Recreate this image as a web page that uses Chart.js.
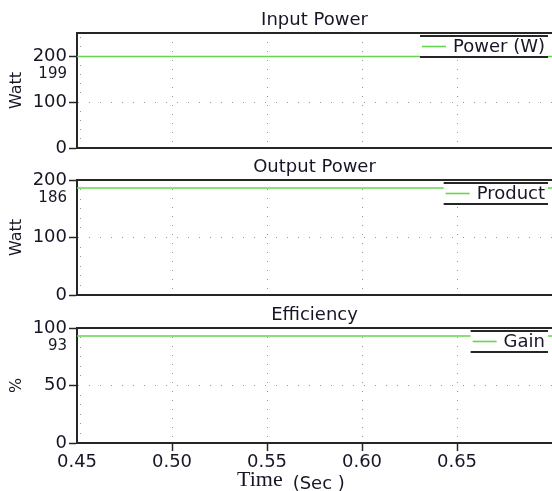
<!DOCTYPE html>
<html>
<head>
<meta charset="utf-8">
<script src="https://cdn.jsdelivr.net/npm/chart.js@4"></script>
<style>
  body { margin: 0; background: #fff; width: 552px; height: 491px; overflow: hidden; position: relative; }
  canvas { position: absolute; left: 0; }
</style>
</head>
<body>
<canvas id="c1" width="552" height="162" style="top:0px"></canvas>
<canvas id="c2" width="552" height="162" style="top:147px"></canvas>
<canvas id="c3" width="552" height="196" style="top:295px"></canvas>
<script>
// values
var time = [0.45, 0.70];
var inputPower = [199, 199];
var outputPower = [186, 186];
var efficiency = [93, 93];
var seriesValues = [inputPower, outputPower, efficiency];

var panelTitles = ["Input Power", "Output Power", "Efficiency"];
var seriesLabels = ["Power (W)", "Product", "Gain"];
var yTitles = ["Watt", "Watt", "%"];
var yMax = [250, 200, 100];
var yMajor = [[0, 100, 200], [0, 100, 200], [0, 50, 100]];
var yMinorStep = [20, 200 / 12, 100 / 12];
var xRange = [0.45, 0.70];
var xTicks = [0.45, 0.50, 0.55, 0.60, 0.65];
var xTitleParts = ["Time", "(Sec )"];

const ink = "#161626";
const axisColor = "#262626";
const dotColor = "#999999";
const lineGreen = "#66d64f";
const sans = '"DejaVu Sans", Verdana, sans-serif';

Chart.defaults.font.family = sans;
Chart.defaults.color = ink;

// legend box, the value label under the top tick, and the time title
const decor = {
  id: "decor",
  afterDatasetsDraw(chart, args, opts) {
    const ctx = chart.ctx;
    const area = chart.chartArea;
    const ds = chart.data.datasets[0];
    ctx.save();
    ctx.font = "18px " + sans;
    const tw = ctx.measureText(ds.label).width;
    const right = area.right - 4;
    const left = right - tw - 36;
    const top = area.top + 3;
    const bottom = area.top + 24;
    ctx.fillStyle = "#fff";
    ctx.fillRect(left, top, right - left, bottom - top);
    ctx.strokeStyle = axisColor;
    ctx.lineWidth = 2;
    ctx.beginPath();
    ctx.moveTo(left, top); ctx.lineTo(right, top);
    ctx.moveTo(left, bottom); ctx.lineTo(right, bottom);
    ctx.stroke();
    const mid = (top + bottom) / 2;
    ctx.strokeStyle = ds.borderColor;
    ctx.lineWidth = ds.borderWidth;
    ctx.beginPath();
    ctx.moveTo(left + 2, mid); ctx.lineTo(left + 26, mid);
    ctx.stroke();
    ctx.fillStyle = ink;
    ctx.textBaseline = "middle";
    ctx.textAlign = "left";
    ctx.fillText(ds.label, left + 33, mid + 1);
    ctx.restore();
  },
  afterDraw(chart, args, opts) {
    const ctx = chart.ctx;
    const area = chart.chartArea;
    const y = chart.scales.y;
    const v = chart.data.datasets[0].data[0].y;
    const topPix = y.getPixelForValue(opts.topTick);
    ctx.save();
    ctx.fillStyle = ink;
    ctx.font = "15px " + sans;
    ctx.textAlign = "right";
    ctx.textBaseline = "middle";
    ctx.fillText(String(v), y.right - 10, Math.max(y.getPixelForValue(v) + 8, topPix + 18));
    if (opts.xTitle) {
      const x0 = area.left + 160;
      const ym = area.bottom + 37;
      ctx.textAlign = "left";
      ctx.font = '22px "Liberation Serif", serif';
      ctx.fillText(opts.xTitle[0], x0, ym);
      const w = ctx.measureText(opts.xTitle[0]).width;
      ctx.font = "18px " + sans;
      ctx.fillText(opts.xTitle[1], x0 + w + 10, ym + 4);
    }
    ctx.restore();
  }
};

function isMajor(i, v) {
  return yMajor[i].some(m => Math.abs(m - v) < 1e-6);
}

function makePanel(i, id, bottom) {
  var points = time.map((t, k) => ({ x: t, y: seriesValues[i][k] }));
  var middle = yMajor[i][1];

  return new Chart(document.getElementById(id), {
    type: "line",
    data: {
      datasets: [{
        label: seriesLabels[i],
        data: points,
        borderColor: lineGreen,
        borderWidth: 1.6,
        pointRadius: 0,
        tension: 0
      }]
    },
    plugins: [decor],
    options: {
      responsive: false,
      animation: false,
      events: [],
      layout: { padding: { left: 0, right: 0, top: 0, bottom: bottom ? 16.4 : 14 } },
      plugins: {
        legend: { display: false },
        tooltip: { enabled: false },
        title: {
          display: true,
          text: panelTitles[i],
          fullSize: false,
          color: ink,
          font: { size: 18, weight: "normal" },
          padding: { top: 9.5, bottom: 1.9 }
        },
        decor: { topTick: yMajor[i][2], xTitle: bottom ? xTitleParts : null }
      },
      scales: {
        x: {
          type: "linear",
          min: xRange[0],
          max: xRange[1],
          afterBuildTicks: s => { s.ticks = xTicks.map(v => ({ value: v })); },
          ticks: {
            display: bottom,
            padding: 1,
            autoSkip: false,
            maxRotation: 0,
            color: ink,
            font: { size: 18 },
            callback: v => v.toFixed(2)
          },
          grid: {
            color: c => c.index > 0 ? dotColor : "rgba(0,0,0,0)",
            lineWidth: 1,
            drawTicks: bottom,
            tickLength: 8,
            tickWidth: 1.5,
            tickBorderDash: [],
            tickColor: c => c.index > 0 ? axisColor : "rgba(0,0,0,0)"
          },
          border: { color: axisColor, width: 2, dash: [1, 8] }
        },
        x2: {
          type: "linear",
          position: "top",
          min: xRange[0],
          max: xRange[1],
          ticks: { display: false },
          grid: { display: false, drawTicks: false },
          border: { color: axisColor, width: 2 }
        },
        y: {
          type: "linear",
          min: 0,
          max: yMax[i],
          afterBuildTicks: s => {
            var vals = [];
            for (var v = 0; v < yMax[i] - 1e-6; v += yMinorStep[i]) vals.push(v);
            yMajor[i].forEach(m => { if (!vals.some(x => Math.abs(x - m) < 1e-6)) vals.push(m); });
            vals.sort((a, b) => a - b);
            s.ticks = vals.map(v => ({ value: v }));
          },
          afterFit: s => { s.width = 77; },
          ticks: {
            autoSkip: false,
            padding: 2,
            color: ink,
            font: { size: 18 },
            callback: v => isMajor(i, v) ? String(Math.round(v)) : ""
          },
          grid: {
            color: c => {
              if (!c.tick) return "rgba(0,0,0,0)";
              var v = c.tick.value;
              if (Math.abs(v - middle) < 1e-6) return dotColor;
              return isMajor(i, v) ? "rgba(0,0,0,0)" : dotColor;
            },
            lineWidth: 1,
            tickLength: 8,
            tickWidth: 1.5,
            tickBorderDash: [],
            tickColor: c => c.tick && isMajor(i, c.tick.value) ? axisColor : "rgba(0,0,0,0)"
          },
          border: {
            color: axisColor,
            width: 2,
            dash: c => {
              if (!c.tick) return [];
              return Math.abs(c.tick.value - middle) < 1e-6 ? [1, 10] : [0, 2, 1, 5000];
            }
          },
          title: {
            display: true,
            text: yTitles[i],
            color: ink,
            font: { size: 16 },
            padding: { top: 7.4, bottom: 0 }
          }
        }
      }
    }
  });
}

makePanel(0, "c1", false);
makePanel(1, "c2", false);
makePanel(2, "c3", true);
</script>
</body>
</html>
